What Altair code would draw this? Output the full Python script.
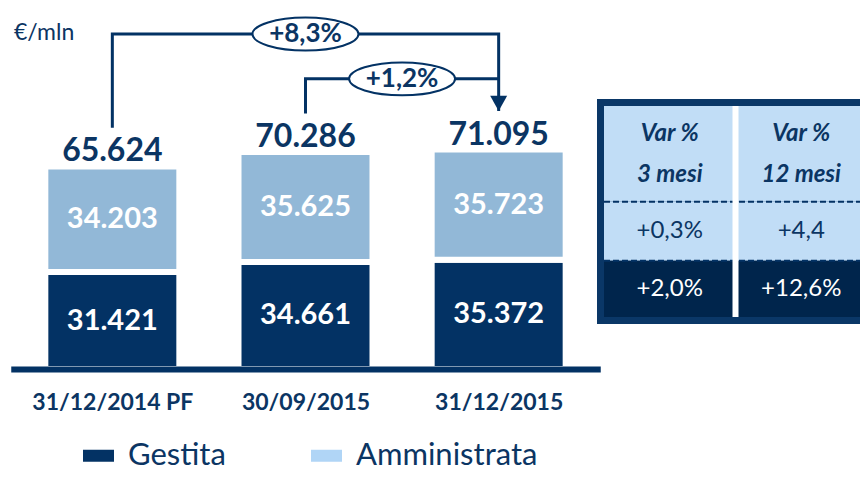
import json
import altair as alt
import pandas as pd

# ---------------- data ----------------
categories = ["31/12/2014 PF", "30/09/2015", "31/12/2015"]
gestita = [31421, 34661, 35372]
amministrata = [34203, 35625, 35723]
series = ["Gestita", "Amministrata"]

growth_labels = ["+8,3%", "+1,2%"]
growth_from = [0, 1]
growth_to = [2, 2]
growth_level = [108500, 94000]   # height of the connector (€/mln)
arrow_gap = 12500                # connector leg stops this far above the bar total

table_headers = ["Var %\n3 mesi", "Var %\n12 mesi"]
table_rows = ["Amministrata", "Gestita"]
var_3m = ["+0,3%", "+2,0%"]
var_12m = ["+4,4", "+12,6%"]
table_row_spans = [1.7, 1.05, 1.0]   # header, Amministrata, Gestita (table units)

# ---------------- style ----------------
NAVY = "#033264"
LIGHT = "#92b8d7"
LEGEND_LIGHT = "#b0d5f6"
TEXT = "#0b3563"
TABLE_LIGHT = "#c1ddf6"
TABLE_DARK = "#00254c"
BORDER = "#0a3767"
FONT = "Lato"


def it(v):
    return f"{v:,}".replace(",", ".")


idx = list(range(len(categories)))
totals = [g + a for g, a in zip(gestita, amministrata)]

seg_rows = []
for i in idx:
    g, a = gestita[i], amministrata[i]
    seg_rows.append(dict(idx=i, series="Gestita", start=0, end=g, mid=g / 2, label=it(g)))
    seg_rows.append(dict(idx=i, series="Amministrata", start=g, end=g + a, mid=g + a / 2, label=it(a)))
seg = pd.DataFrame(seg_rows)

tot = pd.DataFrame(dict(idx=idx, total=totals, label=[it(t) for t in totals]))

arrow_rows = []
for k, (f, t, lev) in enumerate(zip(growth_from, growth_to, growth_level)):
    pts = [(f, totals[f] + arrow_gap), (f, lev), (t, lev)]
    if k == 0:
        pts.append((t, totals[t] + arrow_gap))
    for s, (px, py) in enumerate(pts):
        arrow_rows.append(dict(arrow=k, seq=s, idx=px, y=py))
arrows = pd.DataFrame(arrow_rows)
heads = pd.DataFrame(dict(idx=sorted(set(growth_to)),
                          y=[totals[t] + arrow_gap for t in sorted(set(growth_to))]))
ovals = pd.DataFrame(dict(idx=[(f + t) / 2 for f, t in zip(growth_from, growth_to)],
                          y=growth_level, label=growth_labels))

xscale = alt.Scale(domain=[-0.5, len(categories) - 0.5], range=[2.75, 592.25], nice=False, zero=False)
yscale = alt.Scale(domain=[0, 116940], nice=False)

label_expr = f"{json.dumps(categories)}[datum.value]"
x_axis = alt.Axis(values=idx, labelExpr=label_expr, ticks=False, tickSize=0, grid=False,
                  domain=True, domainWidth=6, domainColor=NAVY, labelFont=FONT, labelFontSize=23,
                  labelFontWeight="bold", labelColor=TEXT, labelPadding=22, title=None,
                  zindex=1, labelFlush=False, labelOverlap=False, orient="bottom")

X = alt.X("idx:Q", scale=xscale)

bars = alt.Chart(seg).mark_bar(width=134, stroke="white", strokeWidth=6).encode(
    x=alt.X("idx:Q", scale=xscale, axis=x_axis),
    y=alt.Y("start:Q", scale=yscale, axis=None),
    y2="end:Q",
    color=alt.Color("series:N", scale=alt.Scale(domain=series, range=[NAVY, LIGHT]), legend=None),
)

legend_shape = "M-1,-0.387L1,-0.387L1,0.387L-1,0.387Z"
legend_layer = alt.Chart(pd.DataFrame(dict(series=series))).mark_point(
    filled=True, size=0, opacity=0).encode(
    x=alt.value(0), y=alt.value(0),
    color=alt.Color("series:N", scale=alt.Scale(domain=series, range=[NAVY, LEGEND_LIGHT]),
                    legend=alt.Legend(orient="none", legendX=75, legendY=432, direction="horizontal",
                                      title=None, symbolType=legend_shape, symbolSize=961,
                                      symbolOpacity=1, symbolStrokeWidth=0,
                                      labelFont=FONT, labelFontSize=31,
                                      labelColor=TEXT, labelOffset=14, columnPadding=85,
                                      padding=0, labelLimit=0)),
)

seg_text = alt.Chart(seg).mark_text(font=FONT, fontSize=29, fontWeight="bold", color="white",
                                     baseline="middle").encode(
    x=X, y=alt.Y("mid:Q", scale=yscale, axis=None), text="label:N")

tot_text = alt.Chart(tot).mark_text(font=FONT, fontSize=32, fontWeight="bold", color=TEXT,
                                     baseline="alphabetic", dy=-5).encode(
    x=X, y=alt.Y("total:Q", scale=yscale, axis=None), text="label:N")

arrow_lines = alt.Chart(arrows).mark_line(color=NAVY, strokeWidth=3, strokeJoin="miter").encode(
    x=X, y=alt.Y("y:Q", scale=yscale, axis=None), detail="arrow:N", order="seq:Q")

arrow_heads = alt.Chart(heads).mark_point(shape="M-1,-1.8L1,-1.8L0,0Z", size=289, filled=True,
                                          color=NAVY, opacity=1).encode(
    x=X, y=alt.Y("y:Q", scale=yscale, axis=None))

oval_marks = alt.Chart(ovals).mark_point(
    shape="M-1,0A1,0.31,0,1,1,1,0A1,0.31,0,1,1,-1,0Z", size=11236, filled=True,
    fill="white", stroke=NAVY, strokeWidth=2, opacity=1).encode(
    x=X, y=alt.Y("y:Q", scale=yscale, axis=None))

oval_text = alt.Chart(ovals).mark_text(font=FONT, fontSize=26, fontWeight="bold", color=TEXT,
                                        baseline="middle").encode(
    x=X, y=alt.Y("y:Q", scale=yscale, axis=None), text="label:N")

unit_text = alt.Chart(pd.DataFrame(dict(t=["€/mln"]))).mark_text(
    font=FONT, fontSize=23, color=TEXT, align="left", baseline="middle").encode(
    x=alt.value(6), y=alt.value(25), text="t:N")

bar_group = alt.layer(bars, seg_text, tot_text, arrow_lines, arrow_heads, oval_marks, oval_text,
                      unit_text, legend_layer).resolve_scale(color="independent")

# ---------------- table ----------------
ncol = len(table_headers)
edges = [0]
for s in table_row_spans:
    edges.append(edges[-1] + s)

cell_rows = []
for r in range(3):
    for c in range(ncol):
        cell_rows.append(dict(r=r, c0=c, c1=c + 1, r0=edges[r], r1=edges[r + 1],
                              dark=(r == 2)))
cells = pd.DataFrame(cell_rows)

txt_rows = []
for c in range(ncol):
    txt_rows.append(dict(cx=c + 0.5, cy=(edges[0] + edges[1]) / 2, label=table_headers[c], kind="head"))
for r, name in enumerate(table_rows):
    vals = [var_3m[r], var_12m[r]]
    for c in range(ncol):
        txt_rows.append(dict(cx=c + 0.5, cy=(edges[r + 1] + edges[r + 2]) / 2, label=vals[c],
                             kind="dark" if r == 1 else "light"))
ttext = pd.DataFrame(txt_rows)

tx = alt.Scale(domain=[0, ncol], range=[596, 859], nice=False, zero=False)
ty = alt.Scale(domain=[0, edges[-1]], range=[98, 309], nice=False, zero=False)

frame = alt.Chart(pd.DataFrame(dict(c0=[0], c1=[ncol], r0=[0], r1=[edges[-1]]))).mark_rect(
    fill=BORDER, stroke=BORDER, strokeWidth=14).encode(
    x=alt.X("c0:Q", scale=tx, axis=None), x2="c1:Q",
    y=alt.Y("r0:Q", scale=ty, axis=None), y2="r1:Q")

light_cells = alt.Chart(cells).transform_filter("!datum.dark").mark_rect(fill=TABLE_LIGHT).encode(
    x=alt.X("c0:Q", scale=tx, axis=None), x2="c1:Q",
    y=alt.Y("r0:Q", scale=ty, axis=None), y2="r1:Q")
dark_cells = alt.Chart(cells).transform_filter("datum.dark").mark_rect(fill=TABLE_DARK).encode(
    x=alt.X("c0:Q", scale=tx, axis=None), x2="c1:Q",
    y=alt.Y("r0:Q", scale=ty, axis=None), y2="r1:Q")

dash_df = pd.DataFrame(dict(c0=[0, 0], c1=[ncol, ncol], r=[edges[1], edges[2]]))
dashes = alt.Chart(dash_df).mark_rule(color=NAVY, strokeWidth=2, strokeDash=[6, 3]).encode(
    x=alt.X("c0:Q", scale=tx, axis=None), x2="c1:Q",
    y=alt.Y("r:Q", scale=ty, axis=None))

sep_df = pd.DataFrame(dict(c=list(range(1, ncol)), r0=[0] * (ncol - 1), r1=[edges[-1]] * (ncol - 1)))
separator = alt.Chart(sep_df).mark_rule(color="white", strokeWidth=6).encode(
    x=alt.X("c:Q", scale=tx, axis=None),
    y=alt.Y("r0:Q", scale=ty, axis=None), y2="r1:Q")

head_text = alt.Chart(ttext).transform_filter("datum.kind == 'head'").mark_text(
    font=FONT, fontSize=24, fontWeight="bold", fontStyle="italic", color=TEXT,
    baseline="middle", lineBreak="\n", lineHeight=41, dy=-20).encode(
    x=alt.X("cx:Q", scale=tx, axis=None), y=alt.Y("cy:Q", scale=ty, axis=None), text="label:N")
light_text = alt.Chart(ttext).transform_filter("datum.kind == 'light'").mark_text(
    font=FONT, fontSize=24, color=TEXT, baseline="middle").encode(
    x=alt.X("cx:Q", scale=tx, axis=None), y=alt.Y("cy:Q", scale=ty, axis=None), text="label:N")
dark_text = alt.Chart(ttext).transform_filter("datum.kind == 'dark'").mark_text(
    font=FONT, fontSize=24, color="white", baseline="middle").encode(
    x=alt.X("cx:Q", scale=tx, axis=None), y=alt.Y("cy:Q", scale=ty, axis=None), text="label:N")

table_group = alt.layer(frame, light_cells, dark_cells, dashes, separator, head_text, light_text, dark_text)

chart = alt.layer(bar_group, table_group).resolve_scale(
    x="independent", y="independent"
).properties(
    width=852, height=361,
    padding={"left": 0, "top": 0, "right": 0, "bottom": 103},
    autosize=alt.AutoSizeParams(type="none"),
).configure_view(stroke=None)

chart.save("out.html", embed_options={"renderer": "svg", "actions": False})
